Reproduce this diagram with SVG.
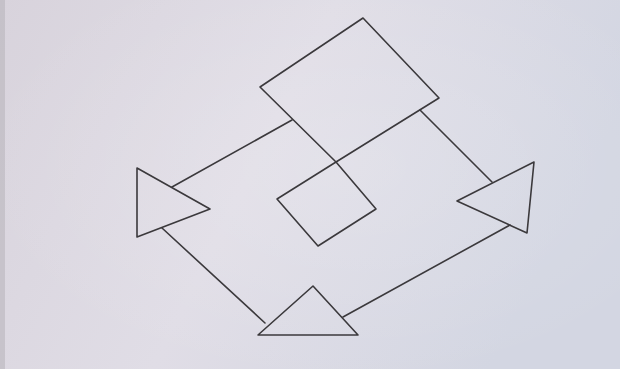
<svg xmlns="http://www.w3.org/2000/svg" width="620" height="369" viewBox="0 0 620 369">
<defs>
<linearGradient id="paper" x1="0" y1="0" x2="1" y2="0.3">
<stop offset="0" stop-color="#d8d3dc"/>
<stop offset="0.5" stop-color="#e0dde6"/>
<stop offset="1" stop-color="#d3d6e2"/>
</linearGradient>
<radialGradient id="glow" cx="0.55" cy="0.45" r="0.6">
<stop offset="0" stop-color="#ffffff" stop-opacity="0.18"/>
<stop offset="1" stop-color="#ffffff" stop-opacity="0"/>
</radialGradient>
</defs>
<style>
.ink{fill:none;stroke:#3b393c;stroke-width:1.6;stroke-linejoin:round;stroke-linecap:round}
</style>
<rect width="620" height="369" fill="url(#paper)"/>
<rect width="620" height="369" fill="url(#glow)"/>
<rect x="0" y="0" width="5" height="369" fill="#b9b5bd" opacity="0.6"/>
<g id="top-square"><polygon class="ink" points="363,18 439,98 336,162 260,87"/></g>
<g id="small-square"><polygon class="ink" points="336,162 376,209 318,246 277,199"/></g>
<g id="left-triangle"><polygon class="ink" points="137,168 210,209 137,237"/></g>
<g id="right-triangle"><polygon class="ink" points="534,162 457,201 527,233"/></g>
<g id="bottom-triangle"><polygon class="ink" points="313,286 358,335 258,335"/></g>
<g id="connectors">
<line class="ink" x1="292" y1="120" x2="172" y2="187"/>
<line class="ink" x1="420" y1="110" x2="492" y2="182"/>
<line class="ink" x1="162" y1="228" x2="265" y2="323"/>
<line class="ink" x1="343" y1="317" x2="510" y2="225"/>
</g>
</svg>
